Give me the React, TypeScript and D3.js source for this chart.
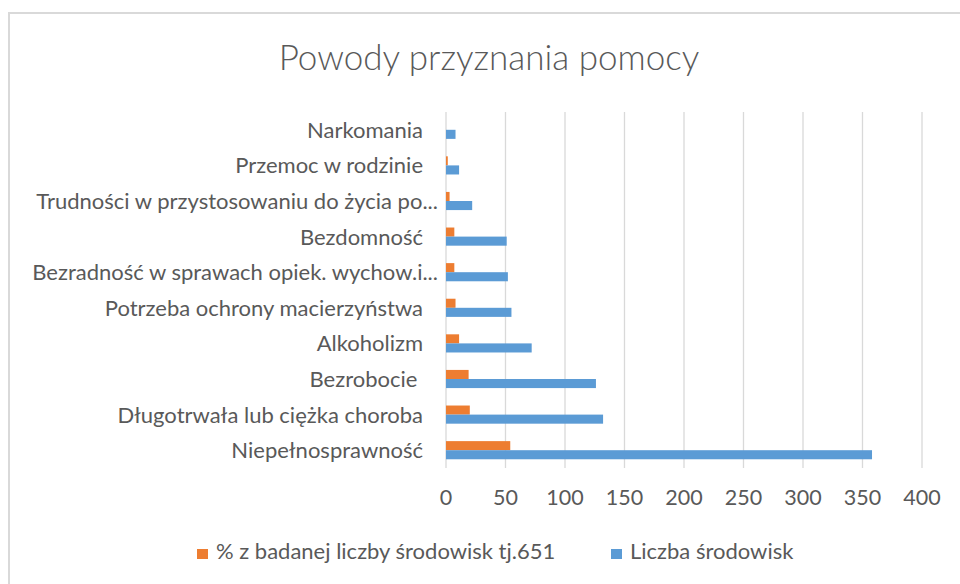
import React, { useRef, useEffect } from 'react';
import * as d3 from 'd3';

// kategorie od góry do dołu
const categories = [
  'Narkomania',
  'Przemoc w rodzinie',
  'Trudności w przystosowaniu do życia po...',
  'Bezdomność',
  'Bezradność w sprawach opiek. wychow.i...',
  'Potrzeba ochrony macierzyństwa',
  'Alkoholizm',
  'Bezrobocie ',
  'Długotrwała lub ciężka choroba',
  'Niepełnosprawność',
];

const percentValues = [0, 1.5, 3, 7, 7, 8, 11, 19, 20, 54];
const countValues = [8, 11, 22, 51, 52, 55, 72, 126, 132, 358];

const xTicks = [0, 50, 100, 150, 200, 250, 300, 350, 400];

const seriesNames = ['% z badanej liczby środowisk tj.651', 'Liczba środowisk'];
const seriesColors = ['#ED7D31', '#5B9BD5'];

const FONT = 'Lato, "Open Sans", sans-serif';
const TEXT_COLOR = '#595959';
const GRID_COLOR = '#D9D9D9';

function App() {
  const svgRef = useRef<SVGSVGElement>(null);

  useEffect(() => {
    const svg = d3.select(svgRef.current);
    svg.selectAll('*').remove();

    const width = 960;
    const height = 584;
    const plot = { left: 446, right: 922, top: 112, bottom: 468 };

    svg.append('rect').attr('width', width).attr('height', height).attr('fill', '#fff');

    // ramka wykresu
    svg
      .append('rect')
      .attr('x', 9)
      .attr('y', 13)
      .attr('width', 1000)
      .attr('height', 700)
      .attr('fill', 'none')
      .attr('stroke', GRID_COLOR)
      .attr('stroke-width', 2);

    // tytuł
    svg
      .append('text')
      .attr('x', 489)
      .attr('y', 70)
      .attr('text-anchor', 'middle')
      .attr('font-family', FONT)
      .attr('font-weight', 300)
      .attr('font-size', 35)
      .attr('fill', TEXT_COLOR)
      .text('Powody przyznania pomocy');

    const x = d3.scaleLinear().domain([0, 400]).range([plot.left, plot.right]);

    const y = d3
      .scaleBand<string>()
      .domain(categories)
      .range([plot.top, plot.bottom])
      .paddingInner(0.49)
      .paddingOuter(0.245);

    const inner = d3
      .scaleBand<number>()
      .domain([0, 1])
      .range([0, y.bandwidth()]);

    // siatka
    svg
      .append('g')
      .selectAll('line')
      .data(xTicks)
      .join('line')
      .attr('x1', (d) => x(d))
      .attr('x2', (d) => x(d))
      .attr('y1', plot.top)
      .attr('y2', plot.bottom)
      .attr('stroke', GRID_COLOR)
      .attr('stroke-width', 1.3);

    // słupki
    const series = [percentValues, countValues];
    series.forEach((values, si) => {
      svg
        .append('g')
        .selectAll('rect')
        .data(values)
        .join('rect')
        .attr('x', x(0))
        .attr('y', (_, i) => (y(categories[i]) as number) + (inner(si) as number))
        .attr('width', (d) => x(d) - x(0))
        .attr('height', inner.bandwidth())
        .attr('fill', seriesColors[si]);
    });

    // etykiety kategorii
    svg
      .append('g')
      .selectAll('text')
      .data(categories)
      .join('text')
      .attr('x', (d) => x(0) - (d.endsWith('...') ? 8 : 23))
      .attr('y', (d) => (y(d) as number) + y.bandwidth() / 2)
      .attr('dy', '0.36em')
      .attr('text-anchor', 'end')
      .attr('font-family', FONT)
      .attr('font-size', 22)
      .attr('fill', TEXT_COLOR)
      .style('white-space', 'pre')
      .text((d) => d);

    // etykiety osi X
    svg
      .append('g')
      .selectAll('text')
      .data(xTicks)
      .join('text')
      .attr('x', (d) => x(d))
      .attr('y', 505)
      .attr('text-anchor', 'middle')
      .attr('font-family', FONT)
      .attr('font-size', 21.5)
      .attr('fill', TEXT_COLOR)
      .text((d) => d);

    // legenda
    const legendX = [197, 611];
    const legend = svg
      .append('g')
      .selectAll('g')
      .data(seriesNames)
      .join('g')
      .attr('transform', (_, i) => `translate(${legendX[i]},549)`);

    legend
      .append('rect')
      .attr('width', 11)
      .attr('height', 10)
      .attr('fill', (_, i) => seriesColors[i]);

    legend
      .append('text')
      .attr('x', 19)
      .attr('y', 10)
      .attr('font-family', FONT)
      .attr('font-size', 22)
      .attr('fill', TEXT_COLOR)
      .text((d) => d);
  }, []);

  return (
    <svg
      ref={svgRef}
      width={960}
      height={584}
      style={{ position: 'absolute', left: 0, top: 0, display: 'block' }}
      xmlns="http://www.w3.org/2000/svg"
    />
  );
}

export default App;
